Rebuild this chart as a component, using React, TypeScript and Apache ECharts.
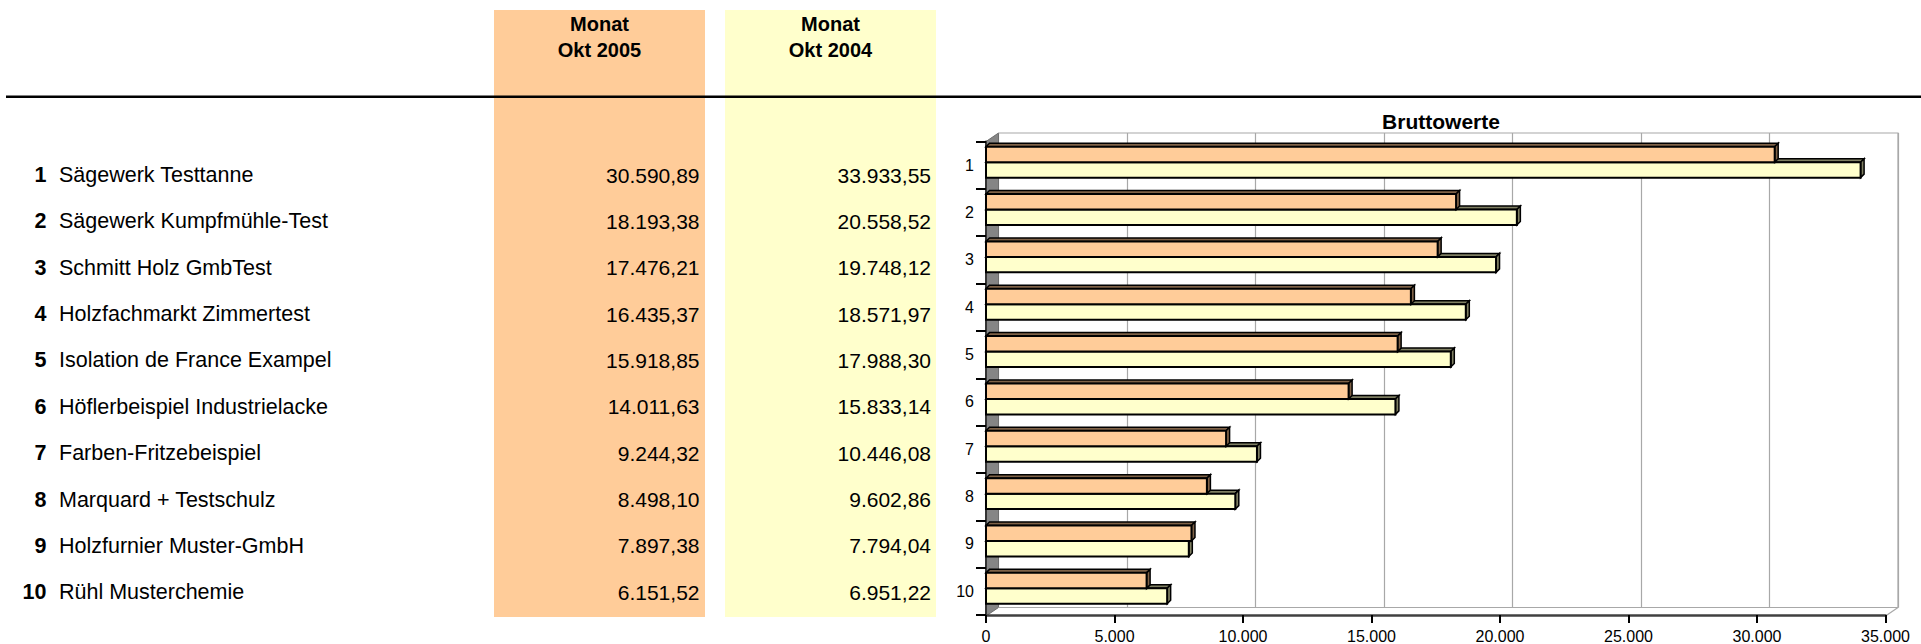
import React, { useEffect, useRef } from "react";
import * as echarts from "echarts";

// ---------- data ----------
const ranks = ["1", "2", "3", "4", "5", "6", "7", "8", "9", "10"];
const companies = [
  "Sägewerk Testtanne",
  "Sägewerk Kumpfmühle-Test",
  "Schmitt Holz GmbTest",
  "Holzfachmarkt Zimmertest",
  "Isolation de France Exampel",
  "Höflerbeispiel Industrielacke",
  "Farben-Fritzebeispiel",
  "Marquard + Testschulz",
  "Holzfurnier Muster-GmbH",
  "Rühl Musterchemie",
];
const okt2005 = [30590.89, 18193.38, 17476.21, 16435.37, 15918.85, 14011.63, 9244.32, 8498.1, 7897.38, 6151.52];
const okt2004 = [33933.55, 20558.52, 19748.12, 18571.97, 17988.3, 15833.14, 10446.08, 9602.86, 7794.04, 6951.22];
const header2005 = ["Monat", "Okt 2005"];
const header2004 = ["Monat", "Okt 2004"];
const chartTitle = "Bruttowerte";
const xMin = 0;
const xMax = 35000;
const xStep = 5000;

// ---------- styles ----------
const FONT = "'Liberation Sans', Arial, Helvetica, sans-serif";
const ORANGE = "#FFCC99";
const YELLOW = "#FFFFCC";
const ORANGE_DARK = "#7F6247";
const YELLOW_DARK = "#7F7F62";
const GRID_GRAY = "#A8A8A8";

const FRONT = { left: 986, top: 141.5, width: 899.5, height: 474.5 };
const DX = 12.5;
const DY = -8.5;
const BACK = { left: FRONT.left + DX, top: FRONT.top + DY, width: FRONT.width, height: FRONT.height };
const BAR_SHIFT = 2.5;

function fmtDE(v: number, digits: number): string {
  const s = v.toFixed(digits);
  const parts = s.split(".");
  const ip = parts[0].replace(/\B(?=(\d{3})+(?!\d))/g, ".");
  return parts.length > 1 ? ip + "," + parts[1] : ip;
}

function bar3D(fill: string, dark: string, topFrac: number, botFrac: number) {
  return (params: any, api: any) => {
    const i = api.value(0);
    const v = api.value(1);
    const p0 = api.coord([0, i]);
    const p1 = api.coord([v, i]);
    const band = api.size([0, 1])[1];
    const x0 = p0[0];
    const x1 = p1[0] + BAR_SHIFT;
    const c = p0[1];
    const t = c + band * topFrac;
    const b = c + band * botFrac;
    const d = 3.5;
    return {
      type: "group",
      children: [
        {
          type: "polygon",
          shape: { points: [[x0, t], [x0 + d, t - d], [x1 + d, t - d], [x1, t]] },
          style: { fill: dark, stroke: "#000", lineWidth: 1.5 },
        },
        {
          type: "polygon",
          shape: { points: [[x1, t], [x1 + d, t - d], [x1 + d, b - d], [x1, b]] },
          style: { fill: dark, stroke: "#000", lineWidth: 1.5 },
        },
        {
          type: "rect",
          shape: { x: x0, y: t, width: x1 - x0, height: b - t },
          style: { fill, stroke: "#000", lineWidth: 2 },
        },
      ],
    };
  };
}

function buildGraphic(): any[] {
  const els: any[] = [];
  // coloured table columns
  els.push({ type: "rect", z: 0, shape: { x: 494, y: 10, width: 211, height: 607 }, style: { fill: ORANGE } });
  els.push({ type: "rect", z: 0, shape: { x: 725, y: 10, width: 211, height: 607 }, style: { fill: YELLOW } });
  // header rule
  els.push({ type: "rect", z: 1, shape: { x: 6, y: 95.5, width: 1915, height: 2.5 }, style: { fill: "#000" } });
  // headers
  const headerY = [23.5, 49.5];
  header2005.forEach((t, k) =>
    els.push({
      type: "text", z: 2, x: 599.5, y: headerY[k],
      style: { text: t, font: `bold 20px ${FONT}`, fill: "#000", align: "center", verticalAlign: "middle" },
    })
  );
  header2004.forEach((t, k) =>
    els.push({
      type: "text", z: 2, x: 830.5, y: headerY[k],
      style: { text: t, font: `bold 20px ${FONT}`, fill: "#000", align: "center", verticalAlign: "middle" },
    })
  );
  // rows
  const rowStart = 175;
  const rowStep = 46.37;
  companies.forEach((name, i) => {
    const y = rowStart + i * rowStep;
    els.push({
      type: "text", z: 2, x: 46.5, y,
      style: { text: ranks[i], font: `bold 21.5px ${FONT}`, fill: "#000", align: "right", verticalAlign: "middle" },
    });
    els.push({
      type: "text", z: 2, x: 59, y,
      style: { text: name, font: `21.5px ${FONT}`, fill: "#000", align: "left", verticalAlign: "middle" },
    });
    els.push({
      type: "text", z: 2, x: 699.5, y,
      style: { text: fmtDE(okt2005[i], 2), font: `21px ${FONT}`, fill: "#000", align: "right", verticalAlign: "middle" },
    });
    els.push({
      type: "text", z: 2, x: 931, y,
      style: { text: fmtDE(okt2004[i], 2), font: `21px ${FONT}`, fill: "#000", align: "right", verticalAlign: "middle" },
    });
  });
  // chart title
  els.push({
    type: "text", z: 2, x: 1441, y: 121.5,
    style: { text: chartTitle, font: `bold 21px ${FONT}`, fill: "#000", align: "center", verticalAlign: "middle" },
  });
  // left wall
  const fL = FRONT.left, fT = FRONT.top, fB = FRONT.top + FRONT.height, fR = FRONT.left + FRONT.width;
  const bL = BACK.left, bT = BACK.top, bB = BACK.top + BACK.height, bR = BACK.left + BACK.width;
  els.push({
    type: "polygon", z: 1,
    shape: { points: [[fL, fT], [bL, bT], [bL, bB], [fL, fB]] },
    style: { fill: "#858585", stroke: "#6E6E6E", lineWidth: 1 },
  });
  // back wall outline (top + right) and floor edges
  els.push({
    type: "polyline", z: 1,
    shape: { points: [[bL, bT], [bR, bT], [bR, bB], [bL, bB]] },
    style: { stroke: GRID_GRAY, lineWidth: 1.2, fill: null },
  });
  els.push({
    type: "line", z: 1,
    shape: { x1: fR, y1: fB, x2: bR, y2: bB },
    style: { stroke: GRID_GRAY, lineWidth: 1.2 },
  });
  return els;
}

export default function App() {
  const ref = useRef<HTMLDivElement>(null);
  useEffect(() => {
    if (!ref.current) return;
    const chart = echarts.init(ref.current, undefined, { renderer: "svg" });
    const option: any = {
      animation: false,
      backgroundColor: "#fff",
      textStyle: { fontFamily: FONT },
      grid: [
        { left: BACK.left, top: BACK.top, width: BACK.width, height: BACK.height, containLabel: false },
        { left: FRONT.left, top: FRONT.top, width: FRONT.width, height: FRONT.height, containLabel: false },
      ],
      xAxis: [
        {
          type: "value", gridIndex: 0, min: xMin, max: xMax, interval: xStep,
          axisLine: { show: false }, axisTick: { show: false }, axisLabel: { show: false },
          splitLine: { show: true, lineStyle: { color: GRID_GRAY, width: 1.2 } },
        },
        {
          type: "value", gridIndex: 1, min: xMin, max: xMax, interval: xStep, z: 4,
          axisLine: { show: true, onZero: false, lineStyle: { color: "#404040", width: 2.5 } },
          axisTick: { show: true, length: 8, lineStyle: { color: "#000", width: 2 } },
          axisLabel: {
            show: true, margin: 13, color: "#000", fontSize: 16, fontFamily: FONT,
            formatter: (v: number) => fmtDE(v, 0),
          },
          splitLine: { show: false },
        },
      ],
      yAxis: [
        {
          type: "category", gridIndex: 0, data: ranks, inverse: true,
          axisLine: { show: false }, axisTick: { show: false }, axisLabel: { show: false }, splitLine: { show: false },
        },
        {
          type: "category", gridIndex: 1, data: ranks, inverse: true, z: 4,
          axisLine: { show: true, lineStyle: { color: "#333", width: 2 } },
          axisTick: { show: true, length: 10, lineStyle: { color: "#000", width: 2 } },
          axisLabel: { show: true, margin: 12, color: "#000", fontSize: 16, fontFamily: FONT },
          splitLine: { show: false },
        },
      ],
      graphic: buildGraphic(),
      series: [
        {
          name: header2004[1],
          type: "custom",
          xAxisIndex: 1,
          yAxisIndex: 1,
          z: 5,
          renderItem: bar3D(YELLOW, YELLOW_DARK, -0.063, 0.263),
          encode: { x: 1, y: 0 },
          data: okt2004.map((v, i) => [i, v]),
        },
        {
          name: header2005[1],
          type: "custom",
          xAxisIndex: 1,
          yAxisIndex: 1,
          z: 6,
          renderItem: bar3D(ORANGE, ORANGE_DARK, -0.39, -0.063),
          encode: { x: 1, y: 0 },
          data: okt2005.map((v, i) => [i, v]),
        },
      ],
    };
    chart.setOption(option);
    return () => chart.dispose();
  }, []);
  return (
    <div
      ref={ref}
      style={{ position: "fixed", left: 0, top: 0, width: "1921px", height: "644px" }}
    />
  );
}
